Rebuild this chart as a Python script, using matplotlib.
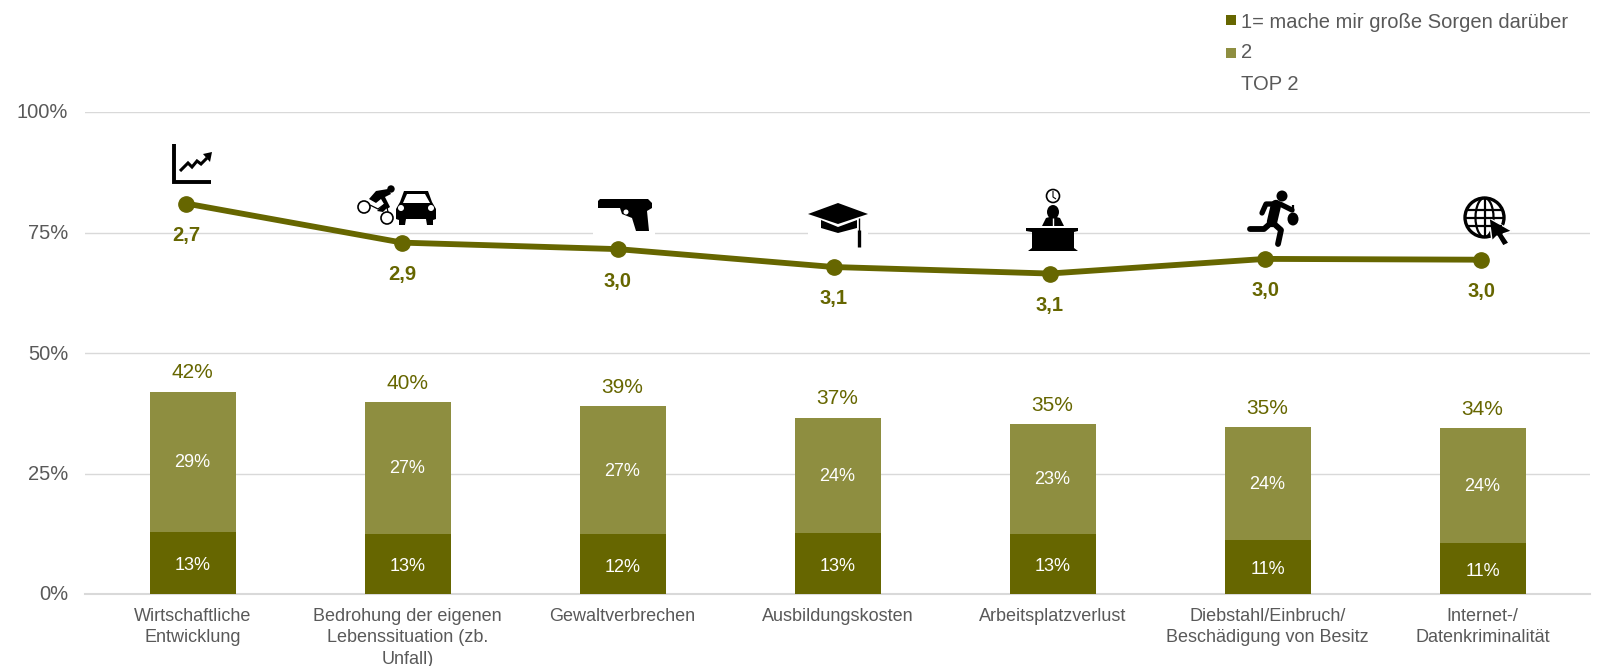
import matplotlib
matplotlib.use("Agg")
import matplotlib.pyplot as plt
import matplotlib.patches as mp
from matplotlib.ticker import FuncFormatter
from matplotlib.transforms import ScaledTranslation

plt.rcParams['font.family'] = ['Liberation Sans', 'DejaVu Sans']

categories = ["Wirtschaftliche\nEntwicklung", "Bedrohung der eigenen\nLebenssituation (zb.\nUnfall)",
              "Gewaltverbrechen", "Ausbildungskosten", "Arbeitsplatzverlust",
              "Diebstahl/Einbruch/\nBeschädigung von Besitz", "Internet-/\nDatenkriminalität"]
sehr_besorgt = [12.9, 12.51, 12.4, 12.6, 12.51, 11.2, 10.6]
besorgt = [29.1, 27.3, 26.6, 24.0, 22.7, 23.5, 23.8]
top2 = [42, 40, 39, 37, 35, 35, 34]
mittelwert = [2.70, 2.94, 2.98, 3.09, 3.13, 3.04, 3.045]
sehr_label = [13, 13, 12, 13, 13, 11, 11]
besorgt_label = [29, 27, 27, 24, 23, 24, 24]

DARK = "#666600"
LIGHT = "#8e8e40"
GREY = "#595959"
W, H = 1597, 666

fig = plt.figure(figsize=(W / 100, H / 100), dpi=100)
ax = fig.add_axes([85 / W, 1 - 594 / H, 1505 / W, 482 / H])

x = list(range(len(categories)))
tops = [a + b for a, b in zip(sehr_besorgt, besorgt)]
ax.bar(x, sehr_besorgt, width=0.4, color=DARK, zorder=3)
ax.bar(x, besorgt, width=0.4, bottom=sehr_besorgt, color=LIGHT, zorder=3)

for i in x:
    ax.text(i, sehr_besorgt[i] / 2 - 0.6, f"{sehr_label[i]}%", color="white", fontsize=13,
            ha="center", va="center", zorder=4)
    ax.text(i, sehr_besorgt[i] + besorgt[i] / 2 - 0.2, f"{besorgt_label[i]}%", color="white",
            fontsize=13, ha="center", va="center", zorder=4)
    ax.text(i, tops[i] + 1.9, f"{top2[i]}%", color=DARK, fontsize=15, ha="center", va="bottom", zorder=4)

ax.set_xlim(-0.5, 6.5)
ax.set_ylim(0, 100)
ax.set_yticks([0, 25, 50, 75, 100])
ax.yaxis.set_major_formatter(FuncFormatter(lambda v, _: f"{v:.0f}%"))
ax.set_xticks(x)
ax.set_xticklabels(categories, fontsize=13, color=GREY, linespacing=1.35)
ax.tick_params(axis="y", length=0, labelsize=14.5, labelcolor=GREY, pad=12)
ax.tick_params(axis="x", length=0, pad=10)
for lab in ax.get_yticklabels():
    lab.set_transform(lab.get_transform() + ScaledTranslation(0, 0.01, fig.dpi_scale_trans))
ax.grid(axis="y", color="#d9d9d9", linewidth=1, zorder=0)
for s in ["top", "left", "right"]:
    ax.spines[s].set_visible(False)
ax.spines["bottom"].set_color("#d9d9d9")
ax.spines["bottom"].set_linewidth(1.5)

# means run on their own inverted scale, slightly wider than the bar axis and hidden
ax2 = fig.add_axes([78.5 / W, 1 - 594 / H, 1510.6 / W, 482 / H], zorder=5)
ax2.set_xlim(-0.5, 6.5)
ax2.set_ylim(5.1, 2.137)
ax2.axis("off")
ax2.plot(x, mittelwert, color=DARK, linewidth=4.2, marker="o", markersize=11)
for i in x:
    ax2.annotate(f"{mittelwert[i]:.1f}".replace(".", ","), (i, mittelwert[i]), xytext=(0, -23),
                 textcoords="offset points", color=DARK, fontsize=14.5, fontweight="bold",
                 ha="center", va="center")

# pixel overlay for the pictograms and the legend
ov = fig.add_axes([0, 0, 1, 1], zorder=10)
ov.set_xlim(0, W)
ov.set_ylim(H, 0)
ov.axis("off")
ov.patch.set_alpha(0)


def poly(pts, color="black"):
    ov.add_patch(mp.Polygon(pts, closed=True, facecolor=color, edgecolor="none"))


def line(pts, lw=2.0, color="black", cap="butt"):
    ov.plot([p[0] for p in pts], [p[1] for p in pts], color=color, lw=lw, solid_capstyle=cap,
            solid_joinstyle="miter" if cap == "butt" else "round")


def dot(cx, cy, rx, ry=None, fc="black", ec="none", lw=0):
    ry = rx if ry is None else ry
    ov.add_patch(mp.Ellipse((cx, cy), 2 * rx, 2 * ry, facecolor=fc, edgecolor=ec, linewidth=lw))


def blank(x0, y0, x1, y1):
    ov.add_patch(mp.Rectangle((x0, y0), x1 - x0, y1 - y0, facecolor="white", edgecolor="none"))


def icon_chart():
    line([(174, 144), (174, 182), (211, 182)], lw=2.8)
    line([(180, 171), (188, 163), (192, 167), (197, 161), (201, 164), (207, 158)], lw=2.2)
    poly([(203, 154), (212, 152), (210, 162)])


def icon_crash():
    for cx, cy in [(364, 207), (387, 218)]:
        dot(cx, cy, 6, fc="white", ec="black", lw=1.2)
    line([(370, 205), (378, 209), (386, 203), (388, 212)], lw=0.9)
    dot(391, 189, 3.7)
    poly([(369, 199), (376, 191), (388, 189), (391, 194), (385, 197), (390, 207), (387, 209),
          (381, 199), (376, 203)])
    poly([(377, 211), (385, 203), (389, 206), (383, 212)])
    poly([(396, 209), (400, 202), (404, 191), (428, 191), (432, 202), (436, 209), (436, 219), (433, 220),
          (433, 225), (427, 225), (426, 219), (406, 219), (405, 225), (399, 225), (399, 220), (396, 219)])
    poly([(403, 203), (407, 194), (425, 194), (430, 203)], color="white")
    dot(401, 208, 3, fc="white")
    dot(431, 208, 3, fc="white")


def icon_gun():
    blank(593, 190, 655, 236)
    poly([(598, 201), (600, 199), (648, 199), (652, 203), (652, 208), (647, 211), (649, 231), (636, 231),
          (632, 218), (627, 216), (622, 214), (620, 208), (598, 208)])
    dot(626, 212, 2.5, fc="white")


def icon_cap():
    blank(808, 205, 868, 247)
    poly([(838, 203), (868, 214), (838, 224), (808, 214)])
    poly([(821, 220), (838, 227), (857, 220), (857, 228), (838, 233), (821, 228)])
    line([(859, 218), (859, 232)], lw=1.0)
    line([(859, 230), (859, 247)], lw=2.4)


def icon_desk():
    dot(1053, 196, 6.5, fc="white", ec="black", lw=1.2)
    line([(1053, 191), (1053, 197), (1056, 199)], lw=0.8)
    dot(1053, 212, 6, 7)
    poly([(1042, 226), (1046, 218), (1053, 216), (1060, 218), (1064, 226)])
    line([(1053, 218), (1053, 226)], lw=1.0, color="white")
    poly([(1026, 228), (1078, 228), (1078, 231), (1074, 232), (1074, 248), (1078, 251), (1028, 251),
          (1032, 248), (1032, 232), (1026, 231)])


def icon_thief():
    dot(1282, 196, 5.5)
    line([(1262, 213), (1266, 204), (1280, 204), (1292, 210)], lw=3.8, cap="round")
    line([(1276, 205), (1272, 222)], lw=7.5, cap="round")
    line([(1272, 222), (1264, 229), (1250, 229)], lw=4.2, cap="round")
    line([(1272, 222), (1281, 230), (1278, 244)], lw=4.2, cap="round")
    dot(1293, 219, 5.5, 6.5)
    line([(1293, 205), (1293, 212)], lw=1.6)


def icon_globe():
    cx, cy = 1484.5, 217.5
    dot(cx, cy, 19.5, fc="white", ec="black", lw=2.4)
    dot(cx, cy, 9, 19.5, fc="none", ec="black", lw=1.6)
    line([(cx, cy - 19), (cx, cy + 19)], lw=1.6)
    line([(cx - 19, cy), (cx + 19, cy)], lw=1.6)
    line([(cx - 17, cy - 8), (cx + 17, cy - 8)], lw=1.6)
    line([(cx - 17, cy + 8), (cx + 17, cy + 8)], lw=1.6)
    ov.add_patch(mp.Polygon([(1489, 218), (1512, 231), (1503, 234), (1509, 243), (1503, 246), (1497, 236), (1492, 241)],
                            closed=True, facecolor="black", edgecolor="white", linewidth=1.0))


for draw_icon in [icon_chart, icon_crash, icon_gun, icon_cap, icon_desk, icon_thief, icon_globe]:
    draw_icon()

ov.add_patch(mp.Rectangle((1226, 15), 9.5, 9.5, facecolor=DARK, edgecolor="none"))
ov.add_patch(mp.Rectangle((1226, 48), 9.5, 9.5, facecolor=LIGHT, edgecolor="none"))
ov.text(1241, 22, "1= mache mir große Sorgen darüber", fontsize=14.5, color=GREY, va="center")
ov.text(1241, 53, "2", fontsize=14.5, color=GREY, va="center")
ov.text(1241, 84, "TOP 2", fontsize=14.5, color=GREY, va="center")

fig.savefig("out.png", dpi=100)
